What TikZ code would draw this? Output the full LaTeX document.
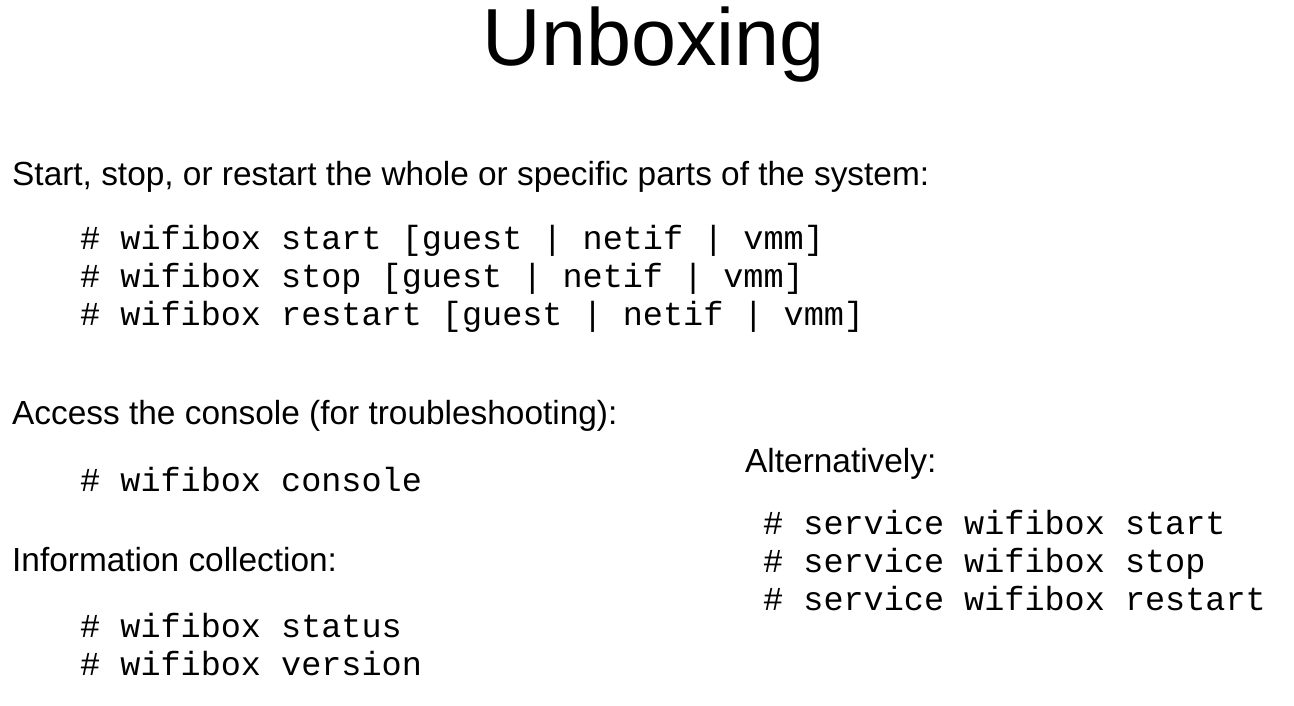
\documentclass[tikz,border=0pt]{standalone}
\usepackage{fontspec}
\setmainfont{Liberation Sans}
\setmonofont{Liberation Mono}
\begin{document}
\begin{tikzpicture}[x=1pt,y=1pt,
  body/.style={anchor=base west,inner sep=0,font=\fontsize{33.4}{38}\selectfont},
  code/.style={anchor=base west,inner sep=0,font=\ttfamily\fontsize{33.5}{38}\selectfont}]
\useasboundingbox (0,0) rectangle (1294,706);
\node[anchor=base,inner sep=0,font=\fontsize{81}{90}\selectfont] (title) at (654,706-66) {Unboxing};
\node[body] (t1) at (12,706-186) {Start, stop, or restart the whole or specific parts of the system:};
\node[code] (c1) at (80,706-250) {\# wifibox start [guest | netif | vmm]};
\node[code] (c2) at (80,706-288) {\# wifibox stop [guest | netif | vmm]};
\node[code] (c3) at (80,706-326) {\# wifibox restart [guest | netif | vmm]};
\node[body] (t2) at (12,706-425) {Access the console (for troubleshooting):};
\node[code] (c4) at (80,706-492) {\# wifibox console};
\node[body] (t3) at (12,706-572) {Information collection:};
\node[code] (c5) at (80,706-638) {\# wifibox status};
\node[code] (c6) at (80,706-676) {\# wifibox version};
\node[body] (t4) at (745,706-473) {Alternatively:};
\node[code] (c7) at (763,706-535) {\# service wifibox start};
\node[code] (c8) at (763,706-573) {\# service wifibox stop};
\node[code] (c9) at (763,706-611) {\# service wifibox restart};
\end{tikzpicture}
\end{document}
